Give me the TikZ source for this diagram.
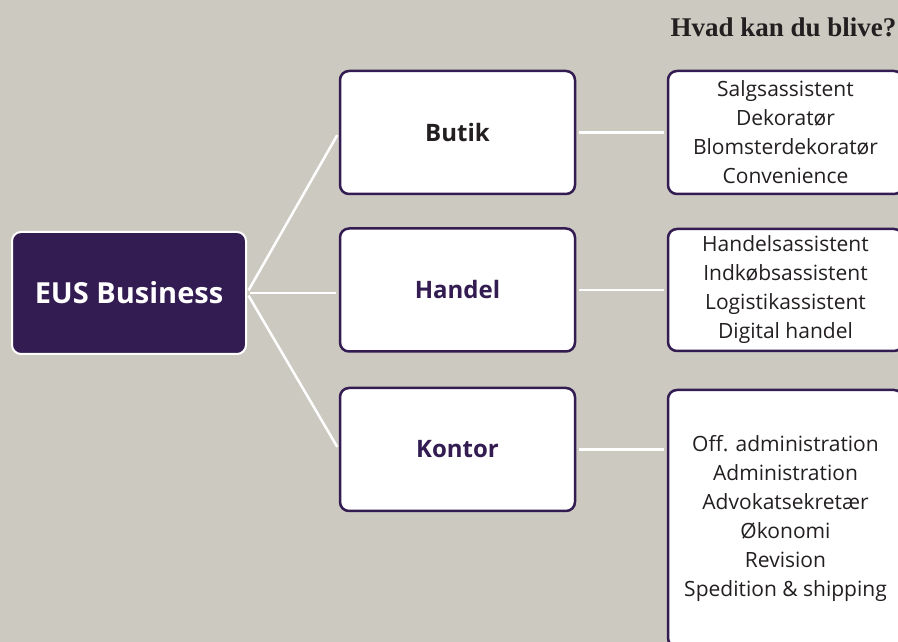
\documentclass[tikz,border=0pt]{standalone}
\usepackage{fontspec}
\setmainfont{Open Sans}
\newfontfamily\titlefont{Liberation Serif}
\usetikzlibrary{positioning}
\definecolor{eusbg}{HTML}{CCC9C1}
\definecolor{euspurple}{HTML}{331C51}
\definecolor{eusdark}{HTML}{231F20}

\begin{document}
\begin{tikzpicture}[x=1pt, y=1pt,
  linje/.style={draw=white, line width=2.5pt, shorten <=3pt, shorten >=3pt},
  omraade/.style={draw=euspurple, fill=white, line width=2.5pt, rounded corners=9pt,
    minimum width=235pt, minimum height=123pt, font=\bfseries\fontsize{24}{28}\selectfont},
  job/.style={draw=euspurple, fill=white, line width=2.5pt, rounded corners=9pt,
    minimum width=235pt, align=center, inner sep=0pt, text=eusdark,
    font=\fontsize{21}{29}\selectfont}]
  \fill[eusbg] (0,0) rectangle (898,642);
  \useasboundingbox (0,0) rectangle (898,642);
  \clip (0,0) rectangle (898,642);

  \node[anchor=base east, text=eusdark, font=\titlefont\bfseries\fontsize{27}{32}\selectfont]
    (titel) at (900,605) {Hvad kan du blive?};

  % uddannelsen
  \node[draw=white, fill=euspurple, line width=2pt, rounded corners=9pt, text=white,
    minimum width=234pt, minimum height=122pt, font=\bfseries\fontsize{29}{33}\selectfont]
    (eus) at (129,349) {EUS Business};

  % hovedforloeb
  \node[omraade, text=eusdark] (butik) at (457.5,509.5) {Butik};
  \node[omraade, text=euspurple] (handel) at (457.5,352) {Handel};
  \node[omraade, text=euspurple] (kontor) at (457.5,192.5) {Kontor};

  % uddannelser
  \node[job, minimum height=123pt] (butikjob) at (785.5,509.5)
    {Salgsassistent\\Dekoratør\\Blomsterdekoratør\\Convenience};
  \node[job, minimum height=122pt] (handeljob) at (785.5,352)
    {Handelsassistent\\Indkøbsassistent\\Logistikassistent\\Digital handel};
  \node[job, minimum height=257pt] (kontorjob) at (785.5,123.5)
    {Off. administration\\Administration\\Advokatsekretær\\Økonomi\\Revision\\Spedition \& shipping};

  \draw[linje] (eus.east) -- (butik.west);
  \draw[linje] (eus.east) -- (eus.east -| handel.west);
  \draw[linje] (eus.east) -- (kontor.west);
  \draw[linje] (butik.east) -- (butikjob.west);
  \draw[linje] (handel.east) -- (handel.east -| handeljob.west);
  \draw[linje] (kontor.east) -- (kontor.east -| kontorjob.west);
\end{tikzpicture}
\end{document}
